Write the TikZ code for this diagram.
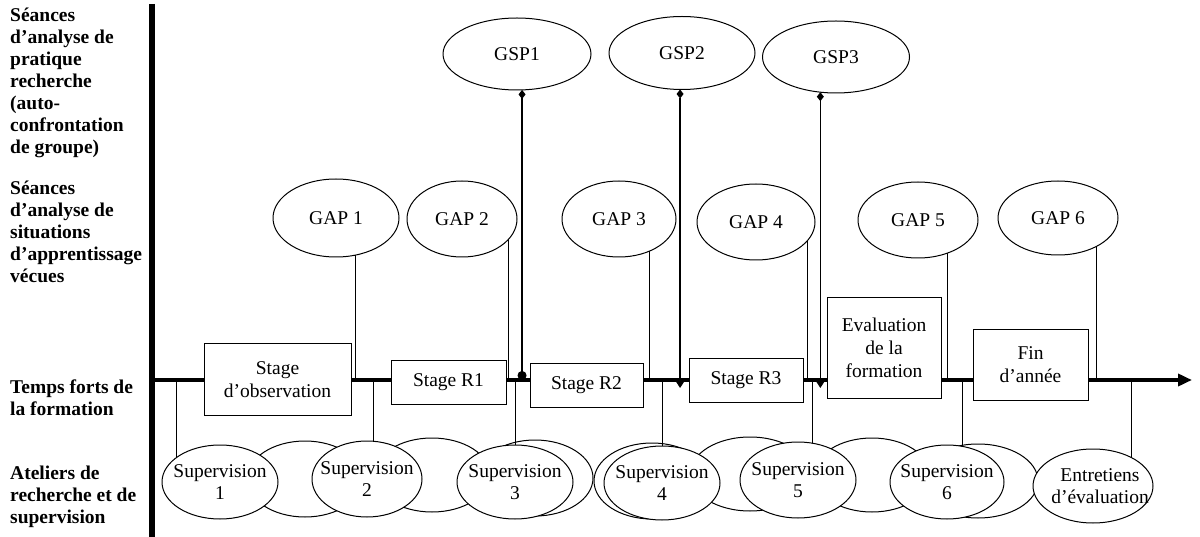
\documentclass[tikz,border=0pt]{standalone}
\usepackage{fontspec}
\setmainfont{Liberation Serif}
\usetikzlibrary{shapes.geometric,arrows.meta}
\newcommand\zbox[2][0pt]{\makebox[0pt]{\hspace*{#1}#2}}
\begin{document}
\begin{tikzpicture}[x=1pt,y=-1pt,
  lbl/.style={anchor=base west,align=left,inner sep=0pt,font=\fontsize{19.5}{22}\selectfont\bfseries},
  ell/.style 2 args={ellipse,draw,line width=1pt,fill=white,inner sep=0pt,outer sep=0pt,
    minimum width=#1pt,minimum height=#2pt,font=\fontsize{19.5}{22}\selectfont,align=center},
  stagebox/.style 2 args={rectangle,draw,line width=1pt,fill=white,inner sep=0pt,
    minimum width=#1pt,minimum height=#2pt,font=\fontsize{19.5}{23}\selectfont,align=center},
  conn/.style={line width=1pt},
  gspline/.style={line width=1.2pt},
  axisline/.style={line width=4.5pt,-{Triangle[length=14pt,width=12pt]}},
]
\useasboundingbox (0,0) rectangle (1200,537);

% left labels (anchor = baseline of the last line)
\node[lbl] (L1) at (10,154) {Séances\\d’analyse de\\pratique\\recherche\\(auto-\\confrontation\\de groupe)};
\node[lbl] (L2) at (10,283) {Séances\\d’analyse de\\situations\\d’apprentissage\\vécues};
\node[lbl] (L3) at (10,415) {Temps forts de\\la formation};
\node[lbl] (L4) at (10,523) {Ateliers de\\recherche et de\\supervision};

% vertical bar and time axis
\coordinate (barT) at (152,4);
\coordinate (barB) at (152,537);
\draw[line width=6pt] (barT) -- (barB);
\coordinate (axL) at (150,380);
\coordinate (axR) at (1192,380);
\draw[axisline] (axL) -- (axR);

% top ellipses
\node[ell={148}{72}] (GSP1) at (517,54) {GSP1};
\node[ell={146}{73}] (GSP2) at (682,53) {GSP2};
\node[ell={147}{72}] (GSP3) at (836,57) {GSP3};

\node[ell={126}{78}] (GAP1) at (336,218) {GAP 1};
\node[ell={110}{76}] (GAP2) at (462,219) {GAP 2};
\node[ell={114}{76}] (GAP3) at (619,219) {GAP 3};
\node[ell={118}{76}] (GAP4) at (756,222) {GAP 4};
\node[ell={120}{76}] (GAP5) at (918,220) {GAP 5};
\node[ell={120}{74}] (GAP6) at (1058,218) {GAP 6};

% GAP connectors
\draw[conn] (GAP1.-62) -- (GAP1.-62 |- axL);
\draw[conn] (GAP2.-23) -- (GAP2.-23 |- axL);
\draw[conn] (GAP3.-47) -- (GAP3.-47 |- axL);
\draw[conn] (GAP4.-20) -- (GAP4.-20 |- axL);
\draw[conn] (GAP5.-48) -- (GAP5.-48 |- axL);
\draw[conn] (GAP6.-36) -- (GAP6.-36 |- axL);

% GSP connectors
\coordinate (g1e) at (GSP1.-82 |- axL);
\coordinate (g2e) at ([yshift=-8pt]GSP2.-93 |- axL);
\coordinate (g3e) at ([yshift=-8pt]GSP3.-114 |- axL);
\draw[gspline,{Diamond[length=9pt,width=7pt]}-{Circle[length=9pt]}] (GSP1.-82) -- (g1e);
\draw[gspline,{Diamond[length=9pt,width=7pt]}-{Triangle[length=8pt,width=10pt]}] (GSP2.-93) -- (g2e);
\draw[gspline,{Diamond[length=9pt,width=7pt]}-{Triangle[length=8pt,width=10pt]}] (GSP3.-114) -- (g3e);

% stage boxes
\node[stagebox={147}{71}] (obs) at (277.5,379.5) {Stage\\d’observation};
\node[stagebox={115}{43}] (R1) at (448.5,382.5) {Stage R1};
\node[stagebox={113}{43}] (R2) at (586.5,385.5) {Stage R2};
\node[stagebox={114}{43}] (R3) at (746,380.5) {Stage R3};
\node[stagebox={114}{100}] (eval) at (884,348) {Evaluation\\de la\\formation};
\node[stagebox={115}{70}] (fin) at (1030.5,365) {Fin\\d’année};

% bottom ellipses (back ones first)
\node[ell={116}{76}] (bA) at (305,479) {};
\node[ell={116}{74}] (bB) at (432,475) {};
\node[ell={116}{76}] (bC) at (535,478) {};
\node[ell={116}{76}] (bD) at (652,481) {};
\node[ell={120}{74}] (bE) at (750,474) {};
\node[ell={116}{74}] (bF) at (872,475) {};
\node[ell={120}{74}] (bG) at (978,481) {};

\node[ell={116}{74}] (S1) at (220,482) {\zbox{Supervision}\\\zbox{1}};
\node[ell={110}{76}] (S2) at (367,479) {\zbox{Supervision}\\\zbox{2}};
\node[ell={116}{74}] (S3) at (515,482) {\zbox{Supervision}\\\zbox{3}};
\node[ell={116}{74}] (S4) at (662,483) {\zbox{Supervision}\\\zbox{4}};
\node[ell={116}{76}] (S5) at (798,480) {\zbox{Supervision}\\\zbox{5}};
\node[ell={114}{74}] (S6) at (947,482) {\zbox{Supervision}\\\zbox{6}};
\node[ell={120}{74}] (Ent) at (1093,486) {\zbox[14pt]{Entretiens}\\\zbox[14pt]{d’évaluation}};

% supervision connectors
\draw[conn] (S1.151 |- axL) -- (S1.151);
\draw[conn] (S2.80 |- axL) -- (S2.80);
\draw[conn] (S3.90 |- axL) -- (S3.90);
\draw[conn] (S4.90 |- axL) -- (S4.90);
\draw[conn] (S5.69 |- axL) -- (S5.69);
\draw[conn] (S6.67 |- axL) -- (S6.67);
\draw[conn] (Ent.36 |- axL) -- (Ent.36);
\end{tikzpicture}
\end{document}
